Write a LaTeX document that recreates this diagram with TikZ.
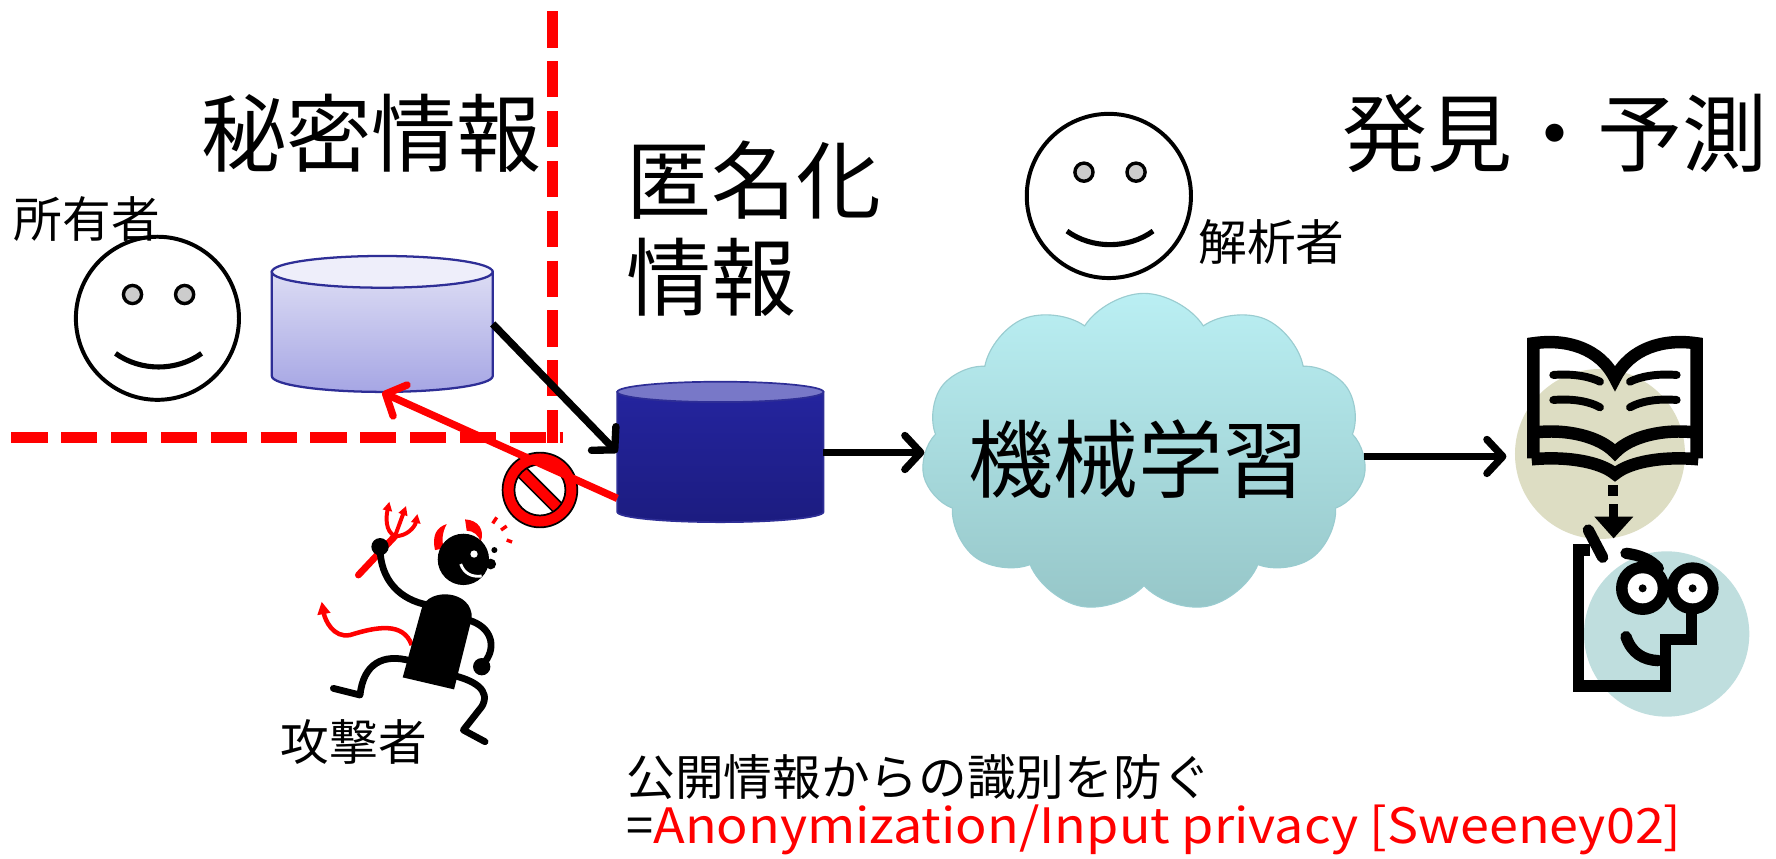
\documentclass[tikz,border=0pt]{standalone}
\usepackage{fontspec}
\usepackage{graphicx}
\setmainfont{Noto Sans CJK JP}
\usetikzlibrary{arrows.meta,shapes.symbols,shapes.geometric}
\definecolor{dbline}{HTML}{2E2E96}
\definecolor{dbtop}{HTML}{EEEEFA}
\definecolor{dbhi}{HTML}{DCDCF4}
\definecolor{dblo}{HTML}{A6A6E4}
\definecolor{anonbody}{HTML}{24249E}
\definecolor{anonlow}{HTML}{1C1C80}
\definecolor{anontop}{HTML}{7878C8}
\definecolor{cloudhi}{HTML}{BAEFF3}
\definecolor{cloudlo}{HTML}{96C6C8}
\definecolor{cloudedge}{HTML}{9ACCD0}
\definecolor{bookdisc}{HTML}{DDDDC3}
\definecolor{facedisc}{HTML}{BFDEDE}
\begin{document}
\begin{tikzpicture}[x=1pt,y=-1pt,
  every node/.style={inner sep=0pt,outer sep=0pt},
  bigtext/.style={anchor=west,font=\fontsize{75}{80}\selectfont},
  smalltext/.style={anchor=west,font=\fontsize{43}{48}\selectfont},
  partition/.style={red,line width=9.5pt,dash pattern=on 32pt off 12pt},
  flow/.style={line width=6.5pt,-{Straight Barb[length=14pt,width=30pt,round]}},
  leak/.style={red,line width=6.5pt,-{Straight Barb[length=14pt,width=30pt,round]}},
  eyeball/.style={draw=black,fill=black!20,line width=3pt},
  limb/.style={line width=6pt,line cap=round,line join=round},
  bookline/.style={line width=11pt,line join=miter},
  pageline/.style={line width=7pt,line cap=round},
  smile/.pic={
    \draw[eyeball] (-22,-21) circle[radius=8];
    \draw[eyeball] (24,-21) circle[radius=8];
    \draw[line width=4.5pt] (-37,31) .. controls (-15,47) and (17,47) .. (39,31);
  }]

\fill[white] (0,0) rectangle (1568,758);
\useasboundingbox (0,0) rectangle (1568,758);

% boundary of the private zone
\draw[partition] (10,386) -- (497,386);
\draw[partition] (488,10) -- (488,391);

% data owner
\node[circle,draw,line width=3.5pt,minimum size=144pt] (owner) at (139,281) {};
\pic at (owner.center) {smile};

% owner's database
\node[minimum width=195pt,minimum height=121pt] (ownerdb) at (337.5,286) {};
\path[top color=dbhi,bottom color=dblo,draw=dbline,line width=2pt]
  (240,240) -- (240,332) arc[start angle=180,end angle=0,x radius=97.5,y radius=14] -- (435,240) -- cycle;
\draw[dbline,fill=dbtop,line width=2pt] (337.5,240) ellipse[x radius=97.5,y radius=14];

% anonymized database
\node[minimum width=182pt,minimum height=123pt] (anondb) at (636,399.5) {};
\path[top color=anonbody,bottom color=anonlow,draw=dbline,line width=1.5pt]
  (545,346) -- (545,452) arc[start angle=180,end angle=0,x radius=91,y radius=9] -- (727,346) -- cycle;
\draw[dbline,fill=anontop,line width=1.5pt] (636,346) ellipse[x radius=91,y radius=9];

\draw[flow] (ownerdb.east) -- (anondb.west);

% prohibition sign
\node[circle,minimum size=68pt] (nosign) at (476.7,432.6) {};
\begin{scope}[shift={(nosign.center)}]
  \fill[red,draw=black,line width=1.5pt] (0,0) circle[radius=33];
  \fill[white] (0,0) circle[radius=22.5];
  \begin{scope}
    \clip (0,0) circle[radius=22.5];
    \draw[black,line width=12pt] (-30,-30) -- (30,30);
    \draw[red,line width=9pt] (-30,-30) -- (30,30);
  \end{scope}
  \draw[black,line width=1.5pt] (0,0) circle[radius=22.5];
\end{scope}

\draw[leak] (anondb.204) -- (ownerdb.south);

% attacker
\begin{scope}[shift={(264.9,388.5)},scale=0.2943]
  \draw[red,line width=4pt,-{Triangle[length=11pt,width=11pt]}]
    (335,615) .. controls (310,545) and (230,560) .. (150,585) .. controls (100,595) and (75,540) .. (65,485);
  \draw[red,line width=6pt,line cap=round] (175,405) -- (285,288);
  \draw[red,line width=3.5pt,-{Triangle[length=8pt,width=8pt]}] (285,288) .. controls (255,275) and (258,230) .. (268,185);
  \draw[red,line width=3.5pt,-{Triangle[length=8pt,width=8pt]}] (285,288) -- (318,198);
  \draw[red,line width=3.5pt,-{Triangle[length=8pt,width=8pt]}] (285,288) .. controls (320,290) and (345,260) .. (352,222);
  \draw[limb] (385,495) .. controls (300,480) and (240,420) .. (240,322);
  \fill (240,320) circle[radius=26];
  \draw[limb] (505,540) .. controls (575,560) and (590,620) .. (555,665);
  \fill (545,680) circle[radius=26];
  \draw[limb] (330,662) .. controls (250,640) and (190,670) .. (180,765) -- (100,745);
  \draw[limb] (455,705) .. controls (520,720) and (575,750) .. (545,800) -- (490,870) -- (555,905);
  \fill (308,712) -- (365,505) .. controls (385,440) and (520,450) .. (515,535) -- (462,748) -- cycle;
  \fill[red] (405,330) .. controls (395,285) and (410,262) .. (440,252) .. controls (425,280) and (425,305) .. (432,325) -- cycle;
  \fill[red] (495,238) .. controls (535,240) and (555,270) .. (542,305) .. controls (535,285) and (520,272) .. (500,272) -- cycle;
  \fill (490,358) circle[radius=77];
  \fill (572,372) circle[radius=16];
  \fill (583,330) circle[radius=9];
  \fill[white] (522,342) circle[radius=11];
  \draw[white,line width=2.5pt] (482,372) .. controls (492,400) and (515,412) .. (545,408);
  \draw[red,line width=3pt] (578,250) -- (590,232);
  \draw[red,line width=3pt] (603,270) -- (620,258);
  \draw[red,line width=3pt] (620,300) -- (636,306);
\end{scope}

% machine learning
\node[cloud,cloud puffs=11,cloud puff arc=115,aspect=1.39,minimum width=393pt,minimum height=282pt,
      top color=cloudhi,bottom color=cloudlo,draw=cloudedge,line width=1pt] (ml) at (1010,400) {};
\node[font=\fontsize{75}{80}\selectfont] (mltext) at (1005,405) {機械学習};
\draw[flow] (anondb.east) -- (ml.west |- anondb.east);
\coordinate (bookin) at (1330,403);
\draw[flow] (ml.east |- bookin) -- (bookin);

% analyst
\node[circle,draw,line width=3.5pt,minimum size=145pt] (analyst) at (979,173) {};
\pic at (analyst.center) {smile};

% book and reader icons
\begin{scope}[shift={(1324.3,282.5)},scale=0.2943]
  \fill[bookdisc] (300,402) circle[radius=255];
  \fill[facedisc] (500,942) circle[radius=248];
  \draw[bookline] (100,415) -- (100,70) .. controls (200,55) and (300,85) .. (345,175)
                  .. controls (390,85) and (490,55) .. (590,70) -- (590,415);
  \draw[bookline] (100,338) .. controls (200,325) and (300,350) .. (345,398) .. controls (390,350) and (490,325) .. (590,338);
  \draw[bookline] (95,418) .. controls (200,408) and (300,425) .. (345,462) .. controls (390,425) and (490,408) .. (595,418);
  \draw[pageline] (160,165) .. controls (220,160) and (270,170) .. (300,185);
  \draw[pageline] (160,240) .. controls (220,235) and (270,245) .. (300,262);
  \draw[pageline] (530,165) .. controls (470,160) and (420,170) .. (390,185);
  \draw[pageline] (530,240) .. controls (470,235) and (420,245) .. (390,262);
  \fill (325,495) rectangle (355,527);
  \fill (327,553) rectangle (353,592);
  \fill (283,590) -- (400,590) -- (341,655) -- cycle;
  \draw[line width=10pt,line cap=round] (265,630) -- (308,712);
  \draw[line width=10pt,line join=miter] (270,690) -- (235,690) -- (235,1098) -- (497,1098) -- (497,958) -- (575,958) -- (575,880);
  \draw[line width=10pt,line cap=round] (378,700) .. controls (420,705) and (455,720) .. (475,745);
  \fill (428,805) circle[radius=80];
  \fill (578,805) circle[radius=78];
  \fill[white] (428,805) circle[radius=45];
  \fill[white] (578,805) circle[radius=45];
  \fill (428,805) circle[radius=12];
  \fill (578,805) circle[radius=12];
  \draw[line width=10pt,line cap=round] (378,950) .. controls (395,1000) and (430,1020) .. (475,1022);
\end{scope}

% labels
\node[bigtext] (secret) at (178,118) {秘密情報};
\node[smalltext] (ownerlbl) at (12,193) {所有者};
\node[bigtext] (anonlbl1) at (553,159) {匿名化};
\node[bigtext] (anonlbl2) at (553,245) {情報};
\node[bigtext] (result) at (1185,118) {発見・予測};
\node[smalltext] (analystlbl) at (1058,214) {解析者};
\node[smalltext] (attackerlbl) at (248,655) {攻撃者};
\node[smalltext] (note1) at (553,686) {公開情報からの識別を防ぐ};
\node[smalltext] (note2) at (553,733) {=\textcolor{red}{\scalebox{1.07}[1]{Anonymization/Input privacy [Sweeney02]}}};
\end{tikzpicture}
\end{document}
